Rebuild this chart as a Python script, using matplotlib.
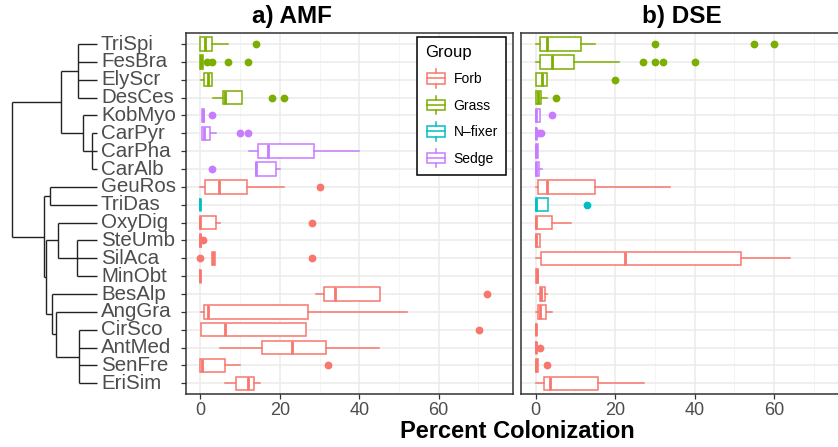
import numpy as np
import matplotlib
matplotlib.use("Agg")
import matplotlib.pyplot as plt
from matplotlib.patches import Rectangle, Patch
from matplotlib.lines import Line2D
from matplotlib.legend_handler import HandlerBase

plt.rcParams['font.family'] = ['Liberation Sans', 'DejaVu Sans']

###########################################################
### data
species = ["TriSpi", "FesBra", "ElyScr", "DesCes", "KobMyo", "CarPyr", "CarPha",
           "CarAlb", "GeuRos", "TriDas", "OxyDig", "SteUmb", "SilAca", "MinObt",
           "BesAlp", "AngGra", "CirSco", "AntMed", "SenFre", "EriSim"]
group = ["Grass", "Grass", "Grass", "Grass", "Sedge", "Sedge", "Sedge", "Sedge",
         "Forb", "N-fixer", "Forb", "Forb", "Forb", "Forb", "Forb", "Forb",
         "Forb", "Forb", "Forb", "Forb"]
group_names = ["Forb", "Grass", "N-fixer", "Sedge"]
group_colors = ["#F8766D", "#7CAE00", "#00BFC4", "#C77CFF"]

# AMF: whisker low, q1, median, q3, whisker high, outliers
amf_lo  = [0, 0, 0.2, 3.1, 0.5, 0.4, 12.2, 13.9, 0, 0, 0, 0, 2.8, 0, 29.0, 0.2, 0.25, 5.0, 0, 6.1]
amf_q1  = [0, 0, 0.8, 5.6, 0.5, 0.4, 14.5, 13.9, 1.1, 0, 0, 0, 2.8, 0, 31.2, 1.0, 0.25, 15.5, 0, 9.0]
amf_med = [1.1, 0.1, 1.8, 6.3, 0.7, 0.8, 17.0, 14.1, 4.6, 0, 0, 0, 3.1, 0, 34.0, 1.8, 6.3, 23.1, 0.4, 12.0]
amf_q3  = [2.9, 0.6, 2.9, 10.5, 1.0, 2.5, 28.6, 19.1, 11.8, 0, 4.0, 0.2, 3.8, 0, 45.2, 27.2, 26.7, 31.6, 6.1, 13.5]
amf_hi  = [7.0, 0.6, 2.9, 10.5, 1.0, 4.0, 39.9, 20.0, 21.0, 0, 4.9, 0.2, 3.8, 0, 45.2, 52.1, 26.7, 45.1, 9.9, 15.0]
amf_out = [[14.0], [1.7, 2.9, 7.0, 12.0], [], [18.1, 21.0], [2.9], [9.9, 11.9], [],
           [2.9], [30.1], [], [28.0], [0.6], [0, 28.0], [], [72.1], [], [70.2], [],
           [32.1], []]

# DSE
dse_lo  = [0.2, 0.2, 0.2, 0, 0, 0, 0, 0, 0.2, 0, 0, 0, 0.2, 0.2, 0.6, 0.1, 0, 0, 0, 0]
dse_q1  = [1.0, 1.0, 0.2, 0, 0, 0, 0, 0, 0.5, 0, 0, 0, 1.4, 0.2, 1.0, 0.6, 0, 0, 0, 2.0]
dse_med = [2.9, 4.0, 1.5, 0.7, 0.1, 0, 0, 0, 2.9, 0, 0, 0, 22.6, 0.4, 1.4, 1.1, 0, 0, 0, 3.7]
dse_q3  = [11.5, 9.6, 2.9, 1.4, 1.0, 0.2, 0.5, 0.8, 14.9, 3.0, 4.1, 1.0, 51.8, 0.6, 2.4, 2.6, 0, 0, 0.5, 15.8]
dse_hi  = [14.9, 21.0, 2.9, 2.9, 1.0, 0.2, 0.5, 1.5, 33.9, 3.0, 9.0, 1.0, 64.0, 0.6, 2.9, 4.0, 0, 0, 0.5, 27.3]
dse_out = [[30.0, 55.0, 60.0], [27.0, 30.0, 32.1, 40.0], [19.9], [5.0], [4.0], [0.8, 1.3],
           [], [], [], [13.0], [], [], [], [], [], [], [], [1.0], [2.9], []]

# dendrogram: (depth, children), leaves are species names
tree = (0.0, [
    (0.575, [(0.779, ["TriSpi", "FesBra", "ElyScr", "DesCes"]),
             (0.838, ["KobMyo", (0.937, ["CarPyr", "CarPha", "CarAlb"])])]),
    (0.378, [(0.445, ["GeuRos", "TriDas"]),
             (0.394, [(0.543, ["OxyDig", (0.760, ["SteUmb", "SilAca", "MinObt"])]),
                      (0.472, ["BesAlp", (0.512, ["AngGra",
                               (0.787, ["CirSco", "AntMed", "SenFre", "EriSim"])])])])]),
])

###########################################################
### helpers
W, H = 838, 447
def px(x0, y0, x1, y1):
    return [x0 / W, 1 - y1 / H, (x1 - x0) / W, (y1 - y0) / H]

rows = np.arange(1, len(species) + 1)
col_of = dict(zip(group_names, group_colors))
ylim = (20.6, 0.4)
xlim = (-3.7, 78.8)

def draw_tree(ax, node, pos):
    if isinstance(node, str):
        return pos[node], 1.0
    d, kids = node
    ys = []
    for k in kids:
        yk, dk = draw_tree(ax, k, pos)
        ax.plot([d, dk], [yk, yk], color='#222222', lw=1.0, solid_capstyle='butt')
        ys.append(yk)
    ax.plot([d, d], [min(ys), max(ys)], color='#222222', lw=1.0, solid_capstyle='butt')
    return (min(ys) + max(ys)) / 2, d

def panel(ax, lo, q1, med, q3, hi, out):
    for i in range(len(species)):
        c = col_of[group[i]]
        st = [dict(whislo=lo[i], q1=q1[i], med=med[i], q3=q3[i], whishi=hi[i], fliers=out[i])]
        ax.bxp(st, positions=[rows[i]], widths=0.75, vert=False, showcaps=False,
               patch_artist=True, manage_ticks=False,
               boxprops=dict(facecolor='white', edgecolor=c, lw=1.1),
               medianprops=dict(color=c, lw=2.0, solid_capstyle='butt'),
               whiskerprops=dict(color=c, lw=1.1),
               flierprops=dict(marker='o', markerfacecolor=c, markeredgecolor=c,
                               markersize=4.6, linestyle='none'))
    ax.set_xlim(*xlim)
    ax.set_ylim(*ylim)
    ax.set_xticks([0, 20, 40, 60])
    ax.set_xticks([10, 30, 50, 70], minor=True)
    ax.set_yticks(rows)
    ax.set_yticklabels([])
    ax.grid(True, which='major', color='#EBEBEB', lw=1.1)
    ax.grid(True, which='minor', axis='x', color='#F2F2F2', lw=0.6)
    ax.set_axisbelow(True)
    for s in ax.spines.values():
        s.set_color('#333333')
        s.set_linewidth(1.1)
    ax.tick_params(axis='x', which='major', colors='#333333', labelcolor='#4D4D4D',
                   labelsize=13, length=3.5, width=0.9, pad=2)
    ax.tick_params(axis='x', which='minor', length=0)

class BoxKey(HandlerBase):
    def create_artists(self, legend, orig_handle, xd, yd, width, height, fontsize, trans):
        c = orig_handle.get_edgecolor()
        cx = -xd + width / 2
        y0 = -yd
        bw = width * 0.85
        box = Rectangle((cx - bw / 2, y0 + height * 0.18), bw, height * 0.64,
                        facecolor='white', edgecolor=c, lw=1.1, transform=trans)
        mid = Line2D([cx - bw / 2, cx + bw / 2], [y0 + height / 2] * 2, color=c, lw=1.1, transform=trans)
        w1 = Line2D([cx, cx], [y0 - height * 0.05, y0 + height * 0.18], color=c, lw=1.1, transform=trans)
        w2 = Line2D([cx, cx], [y0 + height * 0.82, y0 + height * 1.05], color=c, lw=1.1, transform=trans)
        return [box, mid, w1, w2]

###########################################################
### main
fig = plt.figure(figsize=(8.38, 4.47), dpi=100)

axd = fig.add_axes(px(0, 33.3, 185.7, 394))
axd.set_xlim(-0.145, 2.047)
axd.set_ylim(*ylim)
axd.axis('off')
pos = dict(zip(species, rows))
draw_tree(axd, tree, pos)
for i, s in enumerate(species):
    axd.text(1.047, rows[i], s, ha='left', va='center', fontsize=14.8, color='#4D4D4D')

ax1 = fig.add_axes(px(185.7, 33.3, 513.3, 394))
panel(ax1, amf_lo, amf_q1, amf_med, amf_q3, amf_hi, amf_out)
ax1.tick_params(axis='y', colors='#333333', length=3.5, width=0.9)

ax2 = fig.add_axes(px(521, 33.3, 848.6, 394))
panel(ax2, dse_lo, dse_q1, dse_med, dse_q3, dse_hi, dse_out)
ax2.tick_params(axis='y', length=0)

fig.text(291.5 / W, 1 - 16 / H, "a) AMF", ha='center', va='center', fontsize=17.5, weight='bold')
fig.text(681.5 / W, 1 - 16 / H, "b) DSE", ha='center', va='center', fontsize=17.5, weight='bold')
fig.text(517 / W, 1 - 432 / H, "Percent Colonization", ha='center', va='center',
         fontsize=17, weight='bold')

handles = [Patch(edgecolor=c, facecolor='white') for c in group_colors]
labels = ["Forb", "Grass", "N\u2013fixer", "Sedge"]
leg = ax1.legend(handles, labels, title="Group", loc='upper right',
                 bbox_to_anchor=(0.978, 0.99), borderaxespad=0, fontsize=10, title_fontsize=12,
                 handler_map={Patch: BoxKey()}, handlelength=1.6, handleheight=1.45,
                 labelspacing=0.72, handletextpad=0.45, borderpad=0.6,
                 fancybox=False, framealpha=1, edgecolor='black', alignment='left')
leg.get_frame().set_linewidth(1.1)

plt.savefig("out.png", dpi=100)
